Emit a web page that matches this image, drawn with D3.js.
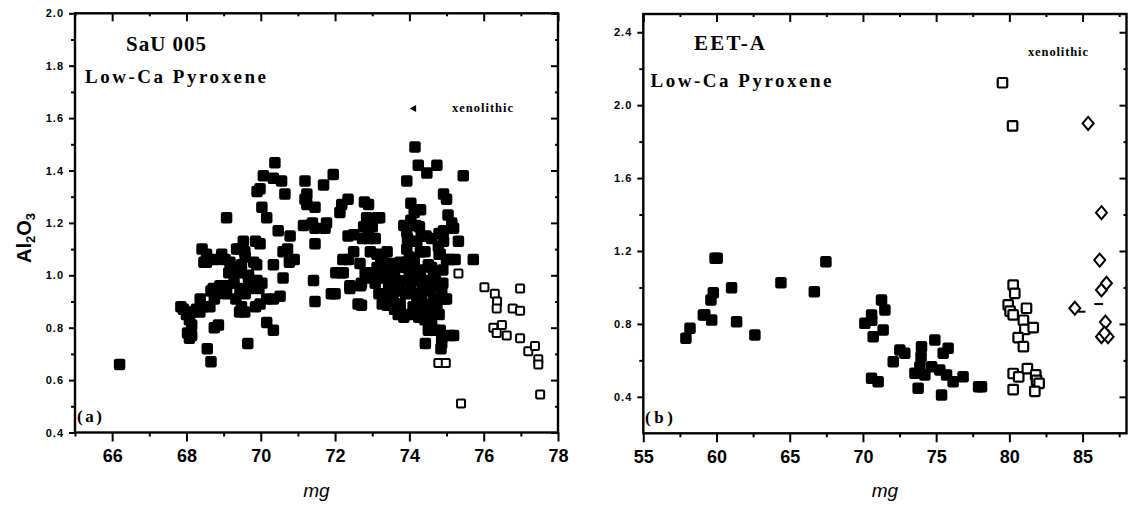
<!DOCTYPE html>
<html><head><meta charset="utf-8">
<script src="https://cdn.jsdelivr.net/npm/d3@7"></script>
<style>
html,body{margin:0;padding:0;background:#fff;}
svg{display:block;}
</style></head><body>
<svg id="c" width="1128" height="507"></svg>
<script>
// ---------- DATA ----------
// Panel (a) SaU 005: filled squares (mg, Al2O3)
const aFilled = [
[66.2,0.66],
[67.85,0.88],[67.92,0.87],[68.0,0.85],[68.08,0.83],[68.14,0.81],[68.03,0.78],[68.14,0.77],[68.08,0.76],[68.27,0.87],[68.37,0.91],[68.14,0.86],[68.36,0.86],[68.45,0.88],[68.63,0.88],
[68.42,1.10],[68.47,1.05],[68.54,1.08],[68.54,1.05],[68.77,1.06],[68.95,1.08],[69.17,1.05],
[68.56,0.72],[68.66,0.67],[68.75,0.80],[68.86,0.81],
[68.72,0.95],[68.9,0.96],[69.08,0.96],[68.81,0.93],[69.08,0.93],[69.44,0.94],[69.58,0.93],[69.71,0.95],[68.66,0.94],[68.75,0.91],
[69.08,1.22],
[69.26,1.01],[69.44,1.01],[69.67,0.99],[69.04,1.06],[69.23,1.03],[69.14,1.01],
[69.33,0.91],[69.43,0.86],[69.57,0.86],[69.28,0.97],[69.47,0.95],
[69.53,1.13],[69.35,1.10],[69.58,1.07],[69.48,1.04],[69.43,1.10],[69.57,1.09],[69.67,1.00],
[69.65,0.74],
[69.86,1.13],[69.81,1.05],[69.90,0.98],[69.95,0.95],[69.86,0.88],[69.48,0.88],[69.98,0.89],
[69.90,1.32],[69.98,1.33],[70.03,1.26],[70.16,1.22],[70.07,1.38],[69.98,1.12],[69.89,1.04],
[70.16,0.82],[70.34,0.79],
[70.16,0.91],[70.34,0.91],[70.52,0.92],
[70.38,1.43],[70.34,1.37],[70.56,1.36],[70.65,1.31],[70.47,1.17],
[70.34,1.04],[70.60,0.99],[70.03,0.97],[70.60,1.09],[70.90,1.06],[70.79,1.15],[70.72,1.10],[70.77,1.05],
[71.19,1.36],[71.19,1.29],[71.15,1.19],[71.24,1.31],[71.24,1.27],[71.46,1.26],[71.69,1.345],[71.95,1.385],
[71.39,1.20],[71.46,1.18],[71.73,1.18],[71.77,1.20],[71.46,1.12],[71.42,0.98],[71.46,0.90],
[71.90,0.93],[72.35,1.29],[72.18,1.27],[72.13,1.24],
[72.36,1.06],[72.22,1.01],[72.67,1.045],[72.02,1.01],[72.16,1.01],[72.40,0.96],[72.21,1.06],
[72.62,0.89],[72.50,1.09],[72.50,1.155],
[72.90,1.27],[72.85,1.22],[73.20,1.22],[73.00,1.185],[72.77,1.185],[72.90,1.14],[73.08,1.14],
[72.95,1.09],[73.13,1.08],[73.40,1.09],[73.30,1.05],[73.57,1.045],[73.75,1.05],
[72.81,1.01],[73.13,1.03],[73.30,0.99],[73.44,0.96],[73.66,0.98],
[73.40,0.92],[73.75,0.94],[73.75,0.89],[73.97,0.85],[73.70,0.85],[73.85,0.84],
[73.93,1.10],[73.93,1.05],[74.07,1.03],[74.20,0.98],
[73.93,0.98],[74.04,0.94],[74.20,0.91],[74.30,0.87],
[74.47,0.94],[74.47,0.98],[74.65,1.00],[74.74,0.96],
[74.56,0.86],[74.74,0.88],[74.87,0.94],[75.00,0.91],
[74.60,0.81],[74.83,0.79],[74.87,0.76],[74.87,0.74],[74.85,0.72],[74.43,0.74],[75.19,0.77],
[74.04,1.275],[74.13,1.24],[74.30,1.25],[74.04,1.21],
[74.27,1.185],[74.45,1.15],[74.60,1.14],[74.78,1.11],
[73.93,1.165],[74.20,1.13],[74.30,1.09],
[74.92,1.17],[74.92,1.13],[74.83,1.08],
[75.00,1.06],[75.23,1.06],[75.72,1.06],[75.32,1.13],[75.14,1.20],[74.92,1.31],[75.00,1.29],
[75.45,1.38],[74.15,1.49],[74.24,1.42],[74.74,1.42],[74.47,1.39],[73.93,1.36],
[72.00,0.93],[72.40,0.95],[72.71,0.886],[72.71,0.97],[73.40,0.886],
[73.18,0.93],[73.27,0.89],[73.56,0.91],[73.47,1.00],[73.66,0.96],[73.75,0.88],[74.13,0.93],[74.32,0.91],[74.42,0.97],[74.56,0.95],[74.70,0.98],[74.80,0.91],[74.65,0.87],[74.80,0.85],[74.42,0.83],[74.51,0.79],
[74.80,1.16],[74.80,1.08],[74.42,1.09],[74.51,1.04],[74.13,1.06],[73.89,1.03],[73.85,1.19],[73.95,1.14],[74.18,1.19],[74.32,1.15],
[75.04,1.23],[74.94,0.91],[75.19,1.18],[75.09,1.06],[75.09,0.77],
[73.08,0.97],[72.89,1.01],[72.69,0.96],[73.37,1.03],[73.23,1.05],[72.79,1.28],[73.13,1.22],[72.89,1.17],[72.74,1.14],[72.35,1.15],
[74.0,1.00],[74.3,1.02],[74.6,1.03],[74.1,0.88],[74.4,0.89],[74.65,0.91],[73.6,1.01],[73.9,0.93],[74.55,0.84],[74.9,0.97],[74.9,1.02],[74.7,0.79],
[73.5,0.94],[73.6,0.87],[74.25,0.84],[74.0,1.07],[74.6,0.96],[74.35,0.95],[73.2,1.0],[72.95,0.99]
];
// Panel (a): open squares
const aOpen = [
[75.32,1.007],[76.02,0.954],[76.30,0.930],[76.36,0.900],[76.35,0.873],[76.26,0.800],[76.35,0.780],[76.49,0.810],[76.62,0.770],
[76.78,0.873],[76.98,0.950],[76.98,0.865],[76.98,0.760],[77.20,0.710],[77.38,0.730],[77.47,0.680],[77.47,0.660],[77.52,0.545],
[75.39,0.511],[74.78,0.665],[74.98,0.665]
];
// Panel (a): xenolithic marker
const aArrow = [[74.1,1.637]];

// Panel (b) EET-A: filled squares
const bFilled = [
[57.91,0.721],[58.19,0.776],[59.10,0.849],[59.20,0.850],[59.67,0.821],[59.62,0.931],[59.78,0.971],[59.90,1.160],[60.05,1.160],
[61.03,0.999],[61.37,0.812],[62.62,0.739],[64.40,1.026],[66.68,0.977],[67.47,1.141],
[70.13,0.803],[70.59,0.849],[70.60,0.820],[71.27,0.931],[71.50,0.876],[70.70,0.730],[71.38,0.767],[70.59,0.502],[71.04,0.483],
[72.07,0.593],[72.52,0.657],[72.86,0.639],[74.00,0.675],[73.97,0.620],[74.91,0.712],[75.82,0.666],[75.48,0.639],
[73.55,0.529],[73.89,0.565],[74.23,0.520],[74.69,0.565],[75.25,0.547],[75.71,0.520],[76.16,0.483],[73.77,0.447],[75.37,0.410],
[76.84,0.510],[77.90,0.456],[78.10,0.456]
];
// Panel (b): open squares
const bOpen = [
[79.53,2.123],[80.22,1.886],[80.26,1.013],[80.37,0.968],[79.92,0.904],[80.05,0.870],[80.26,0.850],[81.17,0.886],[80.96,0.820],
[81.06,0.770],[81.63,0.780],[80.60,0.725],[80.96,0.675],[80.26,0.528],[80.64,0.510],[81.23,0.555],[81.80,0.520],[81.86,0.490],
[82.03,0.474],[80.26,0.440],[81.74,0.430]
];
// Panel (b): open diamonds
const bDiamond = [
[85.38,1.90],[86.29,1.41],[86.17,1.15],[86.29,0.986],[86.63,1.023],[86.56,0.81],[86.29,0.73],[86.74,0.73],[86.50,0.75],[84.47,0.886]
];
// Panel (b): short dashes [mgFrom, mgTo, Al2O3]
const bDashes = [[84.7,85.2,0.867],[85.8,86.4,0.909]];

const aXTicks = [66,68,70,72,74,76,78];
const aXMinor = [65,67,69,71,73,75,77];
const aYTicks = [0.4,0.6,0.8,1.0,1.2,1.4,1.6,1.8,2.0];
const aYMinor = [0.5,0.7,0.9,1.1,1.3,1.5,1.7,1.9];
const bXTicks = [55,60,65,70,75,80,85];
const bXMinor = [57.5,62.5,67.5,72.5,77.5,82.5,87.5];
const bYTicks = [0.4,0.8,1.2,1.6,2.0,2.4];
const bYMinor = [0.6,1.0,1.4,1.8,2.2];

// ---------- DRAW ----------
const svg = d3.select('#c');

function styleAxis(sel){
  sel.select('.domain').remove();
  sel.selectAll('line').attr('stroke','#000').attr('stroke-width',2);
}

function panel(cfg){
  const x = d3.scaleLinear().domain(cfg.xd).range(cfg.xr);
  const y = d3.scaleLinear().domain(cfg.yd).range(cfg.yr);
  const [x0,x1] = cfg.xr, [y0,y1] = cfg.yr; // y0 bottom, y1 top
  const g = svg.append('g');

  g.append('g').attr('transform',`translate(0,${y0})`)
    .call(d3.axisBottom(x).tickValues(cfg.xt).tickSize(9).tickPadding(8).tickFormat(d3.format('d')))
    .call(styleAxis)
    .call(s=>s.selectAll('text').attr('font-family','Liberation Sans, Arial, sans-serif')
      .attr('font-weight','bold').attr('font-size','18px').attr('fill','#000'));
  g.append('g').attr('transform',`translate(0,${y0})`)
    .call(d3.axisBottom(x).tickValues(cfg.xm).tickSize(4).tickFormat(''))
    .call(styleAxis);
  g.append('g').attr('transform',`translate(0,${y1})`)
    .call(d3.axisTop(x).tickValues(cfg.xt).tickSize(-8).tickFormat(''))
    .call(styleAxis);
  g.append('g').attr('transform',`translate(0,${y1})`)
    .call(d3.axisTop(x).tickValues(cfg.xm).tickSize(-3).tickFormat(''))
    .call(styleAxis);
  g.append('g').attr('transform',`translate(${x0},0)`)
    .call(d3.axisLeft(y).tickValues(cfg.yt).tickSize(6).tickPadding(5).tickFormat(d3.format('.1f')))
    .call(styleAxis)
    .call(s=>s.selectAll('text').attr('font-family','Liberation Sans, Arial, sans-serif')
      .attr('font-weight','bold').attr('font-size','11px').attr('letter-spacing','1px').attr('fill','#000'));
  g.append('g').attr('transform',`translate(${x0},0)`)
    .call(d3.axisLeft(y).tickValues(cfg.ym).tickSize(4).tickFormat(''))
    .call(styleAxis);
  g.append('g').attr('transform',`translate(${x1},0)`)
    .call(d3.axisRight(y).tickValues(cfg.yt).tickSize(-7).tickFormat(''))
    .call(styleAxis);
  g.append('g').attr('transform',`translate(${x1},0)`)
    .call(d3.axisRight(y).tickValues(cfg.ym).tickSize(-3).tickFormat(''))
    .call(styleAxis);
  g.append('rect').attr('x',x0).attr('y',y1).attr('width',x1-x0).attr('height',y0-y1)
    .attr('fill','none').attr('stroke','#000').attr('stroke-width',2.4);

  return {g,x,y};
}

function filledSquares(p, data, s){
  p.g.append('g').selectAll('rect').data(data).join('rect')
    .attr('x',d=>p.x(d[0])-s/2).attr('y',d=>p.y(d[1])-s/2)
    .attr('width',s).attr('height',s).attr('rx',2.2).attr('fill','#000');
}
function openSquares(p, data, s, sw){
  p.g.append('g').selectAll('rect').data(data).join('rect')
    .attr('x',d=>p.x(d[0])-s/2).attr('y',d=>p.y(d[1])-s/2)
    .attr('width',s).attr('height',s).attr('rx',1)
    .attr('fill','#fff').attr('stroke','#000').attr('stroke-width',sw);
}

function serifText(g, txt, x, y, size, len){
  const t = g.append('text').attr('x',x).attr('y',y).text(txt)
    .attr('font-family','Liberation Serif, Times New Roman, serif').attr('font-weight','bold')
    .attr('font-size',size+'px').attr('fill','#000');
  if(len) t.attr('textLength',len).attr('lengthAdjust','spacing');
  return t;
}

// Panel a
const pa = panel({xd:[65,78], xr:[75,558], yd:[0.4,2.0], yr:[432.5,13.3],
  xt:aXTicks, xm:aXMinor, yt:aYTicks, ym:aYMinor});
filledSquares(pa, aFilled, 11.5);
openSquares(pa, aOpen, 8, 2);
pa.g.append('g').selectAll('path').data(aArrow).join('path')
  .attr('transform',d=>`translate(${pa.x(d[0])},${pa.y(d[1])})`)
  .attr('d','M-3.5,0L3,-3.5L3,3.5Z').attr('fill','#000');
serifText(pa.g,'xenolithic',452,112,12.5,61);
serifText(pa.g,'SaU 005',126,51,21,80);
serifText(pa.g,'Low-Ca Pyroxene',85,83,19,181);
serifText(pa.g,'(a)',77,421.5,17,25);

// Panel b
const pb = panel({xd:[55,88], xr:[643.3,1126.5], yd:[0.2,2.5], yr:[433.3,14],
  xt:bXTicks, xm:bXMinor, yt:bYTicks, ym:bYMinor});
filledSquares(pb, bFilled, 11.5);
openSquares(pb, bOpen, 9.5, 2.2);
pb.g.append('g').selectAll('path').data(bDiamond).join('path')
  .attr('transform',d=>`translate(${pb.x(d[0])},${pb.y(d[1])})`)
  .attr('d','M0,-6.5L5.5,0L0,6.5L-5.5,0Z').attr('fill','#fff').attr('stroke','#000').attr('stroke-width',2);
pb.g.append('g').selectAll('line').data(bDashes).join('line')
  .attr('x1',d=>pb.x(d[0])).attr('x2',d=>pb.x(d[1]))
  .attr('y1',d=>pb.y(d[2])).attr('y2',d=>pb.y(d[2]))
  .attr('stroke','#000').attr('stroke-width',2);
serifText(pb.g,'xenolithic',1028,55.5,12.5,60);
serifText(pb.g,'EET-A',694,50,21,71);
serifText(pb.g,'Low-Ca Pyroxene',650.5,87,19,181);
serifText(pb.g,'(b)',645,423,17,28);

// axis titles
svg.append('text').attr('x',316.5).attr('y',497).attr('text-anchor','middle')
  .attr('font-family','Liberation Sans, Arial, sans-serif').attr('font-style','italic')
  .attr('font-size','19px').text('mg');
svg.append('text').attr('x',885).attr('y',497).attr('text-anchor','middle')
  .attr('font-family','Liberation Sans, Arial, sans-serif').attr('font-style','italic')
  .attr('font-size','19px').text('mg');
const yt = svg.append('text').attr('transform','translate(31,238) rotate(-90)').attr('text-anchor','middle')
  .attr('font-family','Liberation Sans, Arial, sans-serif').attr('font-weight','bold').attr('font-size','20px');
yt.append('tspan').text('Al');
yt.append('tspan').attr('font-size','13px').attr('dy','4').text('2');
yt.append('tspan').attr('dy','-4').text('O');
yt.append('tspan').attr('font-size','13px').attr('dy','4').text('3');
</script>
</body></html>
